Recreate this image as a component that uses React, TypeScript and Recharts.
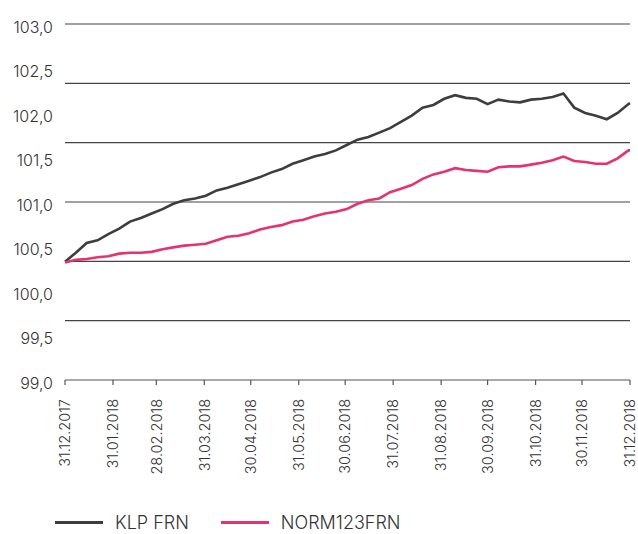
import { LineChart, Line, XAxis, YAxis, ReferenceLine } from 'recharts'

// days since 31.12.2017 (weekly samples)
const days = [
  0, 7, 14, 21, 28, 35, 42, 49, 56, 63, 70, 77, 84, 91, 98, 105, 112, 119, 126, 133, 140, 147, 154, 161, 168, 175, 182,
  189, 196, 203, 210, 217, 224, 231, 238, 245, 252, 259, 266, 273, 280, 287, 294, 301, 308, 315, 322, 329, 336, 343,
  350, 357, 364, 365,
]

const klpFrn = [
  100.33, 100.43, 100.54, 100.57, 100.64, 100.7, 100.78, 100.82, 100.87, 100.92, 100.98, 101.02, 101.04, 101.07,
  101.13, 101.16, 101.2, 101.24, 101.28, 101.33, 101.37, 101.43, 101.47, 101.51, 101.54, 101.58, 101.64, 101.7,
  101.73, 101.78, 101.83, 101.9, 101.97, 102.06, 102.09, 102.16, 102.2, 102.17, 102.16, 102.1, 102.15, 102.13, 102.12,
  102.15, 102.16, 102.18, 102.22, 102.06, 102.0, 101.97, 101.93, 102.0, 102.1, 102.11,
]

const norm123Frn = [
  100.32, 100.35, 100.36, 100.38, 100.39, 100.42, 100.43, 100.43, 100.44, 100.47, 100.49, 100.51, 100.52, 100.53,
  100.57, 100.61, 100.62, 100.65, 100.69, 100.72, 100.74, 100.78, 100.8, 100.84, 100.87, 100.89, 100.92, 100.98,
  101.02, 101.04, 101.11, 101.15, 101.19, 101.26, 101.31, 101.34, 101.38, 101.36, 101.35, 101.34, 101.39, 101.4, 101.4,
  101.42, 101.44, 101.47, 101.51, 101.46, 101.45, 101.43, 101.43, 101.49, 101.58, 101.58,
]

const monthEndDays = [0, 31, 59, 90, 120, 151, 181, 212, 243, 273, 304, 334, 365]
const monthEndLabels = [
  '31.12.2017', '31.01.2018', '28.02.2018', '31.03.2018', '30.04.2018', '31.05.2018', '30.06.2018',
  '31.07.2018', '31.08.2018', '30.09.2018', '31.10.2018', '30.11.2018', '31.12.2018',
]

const yTicks = [99, 99.5, 100, 100.5, 101, 101.5, 102, 102.5, 103]
const gridValues = [99.667, 100.333, 101, 101.667, 102.333, 103]

const series = [
  { key: 'klp', name: 'KLP FRN', color: '#3d3d3d' },
  { key: 'norm', name: 'NORM123FRN', color: '#e5336c' },
]

const data = days.map((day, i) => ({ day, klp: klpFrn[i], norm: norm123Frn[i] }))

const font = 'Inter, "Noto Sans", sans-serif'
const textColor = '#333'

function DateTick(props: any) {
  const { x, y, payload } = props
  const label = monthEndLabels[monthEndDays.indexOf(payload.value)]
  return (
    <text
      x={x}
      y={y + 12}
      transform={`rotate(-90, ${x}, ${y + 12})`}
      textAnchor="end"
      dy="0.36em"
      fontSize={14.5}
      fontFamily={font}
      fontWeight={300}
      fill={textColor}
    >
      {label}
    </text>
  )
}

function ValueTick(props: any) {
  const { x, y, payload } = props
  return (
    <text x={x} y={y + 3} textAnchor="end" dy="0.36em" fontSize={16} fontFamily={font} fontWeight={300} fill={textColor}>
      {payload.value.toFixed(1).replace('.', ',')}
    </text>
  )
}

export default function App() {
  return (
    <div style={{ position: 'absolute', left: 0, top: 0, width: 638, height: 534, background: '#fff' }}>
      <LineChart width={638} height={534} data={data} margin={{ top: 24, right: 8, left: 0, bottom: 0 }}>
        <XAxis
          type="number"
          dataKey="day"
          domain={[0, 365]}
          ticks={monthEndDays}
          interval={0}
          height={154}
          tick={<DateTick />}
          tickSize={5}
          axisLine={{ stroke: '#555', strokeWidth: 1.2 }}
          tickLine={{ stroke: '#555', strokeWidth: 1.2 }}
        />
        <YAxis
          type="number"
          domain={[99, 103]}
          ticks={yTicks}
          interval={0}
          width={65}
          axisLine={false}
          tickLine={false}
          tickSize={0}
          tickMargin={12}
          tick={<ValueTick />}
        />
        {gridValues.map((v) => (
          <ReferenceLine key={v} y={v} stroke="#444" strokeWidth={1.2} ifOverflow="extendDomain" />
        ))}
        {series.map((s) => (
          <Line
            key={s.key}
            type="linear"
            dataKey={s.key}
            name={s.name}
            stroke={s.color}
            strokeWidth={2.6}
            dot={false}
            isAnimationActive={false}
          />
        ))}
      </LineChart>
      <div
        style={{
          position: 'absolute',
          left: 55,
          top: 512,
          display: 'flex',
          alignItems: 'center',
          fontFamily: font,
          fontWeight: 300,
          fontSize: 18,
          color: textColor,
        }}
      >
        {series.map((s) => (
          <div key={s.key} style={{ display: 'flex', alignItems: 'center', marginRight: 32 }}>
            <span style={{ display: 'inline-block', width: 48, height: 3, background: s.color, marginRight: 12 }} />
            <span>{s.name}</span>
          </div>
        ))}
      </div>
    </div>
  )
}
